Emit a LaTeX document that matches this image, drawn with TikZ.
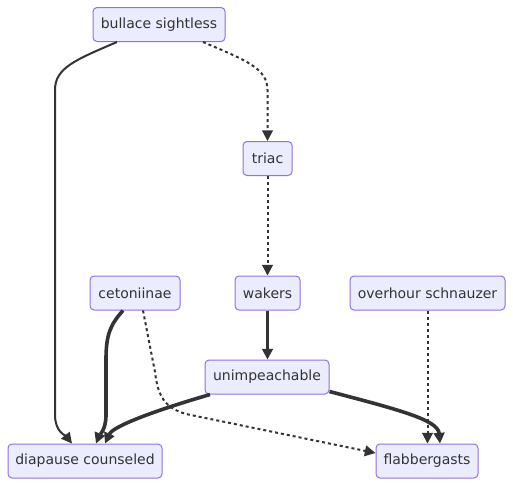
\documentclass[tikz,border=0pt]{standalone}
\usepackage{fontspec}
\setmainfont{DejaVu Sans}
\usepackage{xcolor}
\usepackage{tikz}
\usetikzlibrary{arrows.meta, calc}
\definecolor{boxfill}{HTML}{ECECFF}
\definecolor{boxline}{HTML}{9370DB}
\definecolor{inkgray}{HTML}{333333}

\begin{document}
\begin{tikzpicture}[
  x=0.75pt, y=-0.75pt,
  every node/.style={font=\fontsize{10.5}{12}\selectfont, text=inkgray},
  box/.style={rectangle, draw=boxline, fill=boxfill, line width=0.75pt,
              rounded corners=3pt, minimum height=25.5pt, inner sep=0pt},
  plain/.style={draw=inkgray, line width=1.5pt,
                -{Triangle[length=8pt, width=8pt]}},
  heavy/.style={draw=inkgray, line width=2.7pt,
                -{Triangle[length=8pt, width=8pt]}},
  dots/.style={draw=inkgray, line width=1.5pt, dash pattern=on 2.25pt off 2.25pt,
               -{Triangle[length=8pt, width=8pt]}},
]
  \useasboundingbox (0,0) rectangle (513,486);

  % Nodes
  \node[box, minimum width=99pt] (bs) at (159,24.5) {bullace sightless};
  \node[box, minimum width=36.75pt] (triac) at (267.5,158.5) {triac};
  \node[box, minimum width=67.5pt] (cet) at (135,293) {cetoniinae};
  \node[box, minimum width=48.75pt] (wak) at (267.5,293) {wakers};
  \node[box, minimum width=116.25pt] (ovh) at (427.5,293) {overhour schnauzer};
  \node[box, minimum width=93pt] (unimp) at (267,377) {unimpeachable};
  \node[box, minimum width=115.5pt] (diap) at (85,461) {diapause counseled};
  \node[box, minimum width=76.5pt] (flab) at (427,461) {flabbergasts};

  % Edges from the top
  \draw[plain] ($(bs.south)+(-42,0)$) .. controls (75,60) and (55,68) .. (55,90)
    -- (55,415) .. controls (55,432) and (66,436) .. ($(diap.north)+(-13,0)$);
  \draw[dots] ($(bs.south)+(44,0)$) .. controls (245,60) and (267.5,68) .. (267.5,90)
    -- (triac.north);
  \draw[dots] (triac) -- (wak);
  \draw[heavy] (wak.south) -- (wak.south |- unimp.north);

  % Edges into the bottom row
  \draw[heavy] ($(cet.south)+(-12,0)$) .. controls (110,325) and (106,335) .. (106,360)
    -- (106,415) .. controls (106,430) and (99,436) .. ($(diap.north)+(11,0)$);
  \draw[heavy] ($(unimp.south)+(-57,0)$) .. controls (140,415) and (112,428)
    .. ($(diap.north)+(20,0)$);
  \draw[dots] ($(cet.south)+(8,0)$) -- (155,372) .. controls (158,398) and (166,408)
    .. (186,414) -- ($(flab.west)+(0,-8)$);
  \draw[heavy] ($(unimp.south east)+(0,-3)$) .. controls (400,410) and (438,420)
    .. ($(flab.north)+(13,0)$);
  \draw[dots] (ovh.south) -- (ovh.south |- flab.north);
\end{tikzpicture}
\end{document}
